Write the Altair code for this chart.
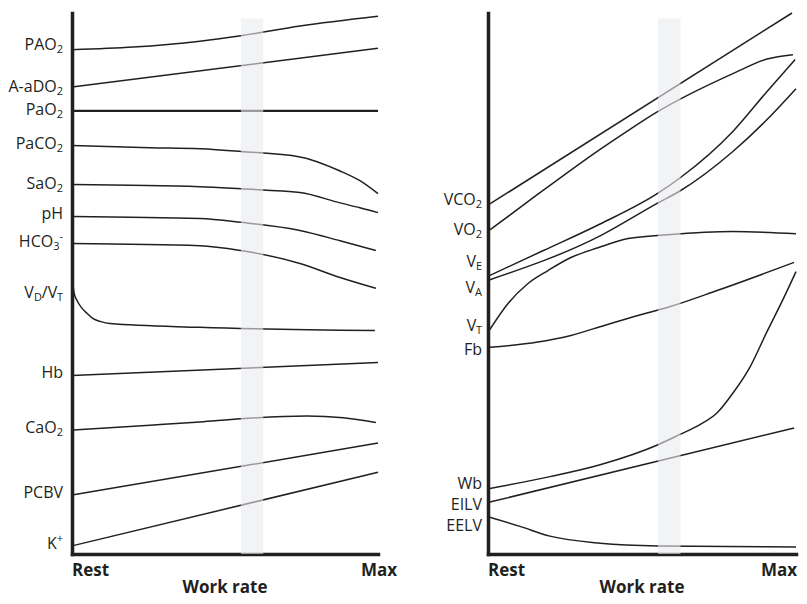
import altair as alt
import pandas as pd

# ---------------- data (x: work rate, 0 = Rest .. 100 = Max; y: relative level 0..100)
# Left panel
pao2_x = [0, 20, 41.8, 55.2, 74.5, 100]
pao2_y = [93.2, 93.7, 94.8, 95.8, 97.6, 99.4]
aado2_x = [0, 100]
aado2_y = [86.3, 93.5]
pao2art_x = [0, 100]
pao2art_y = [81.9, 81.9]
paco2_x = [0, 25.5, 41.8, 55.2, 74.5, 87.6, 94.1, 100]
paco2_y = [75.5, 75.1, 74.9, 74.4, 73.4, 70.8, 69.0, 66.6]
sao2_x = [0, 41.8, 55.2, 74.5, 87.6, 94.1, 100]
sao2_y = [68.3, 67.9, 67.5, 66.8, 64.9, 64.0, 63.1]
ph_x = [0, 41.8, 55.2, 74.5, 87.6, 99.3]
ph_y = [62.4, 62.0, 61.3, 59.8, 57.9, 56.1]
hco3_x = [0, 41.8, 55.2, 74.5, 87.6, 99.3]
hco3_y = [57.4, 57.0, 56.1, 53.7, 51.1, 49.1]
vdvt_x = [0.3, 0.65, 1.6, 3.3, 4.9, 6.9, 9.2, 12.4, 41.8, 99]
vdvt_y = [50.0, 48.3, 46.9, 45.4, 44.5, 43.5, 43.0, 42.6, 41.9, 41.3]
hb_x = [0, 100]
hb_y = [33.0, 35.4]
cao2_x = [0, 25.5, 41.8, 55.2, 76.8, 88.6, 99.3]
cao2_y = [22.9, 23.8, 24.4, 25.0, 25.5, 25.2, 24.3]
pcbv_x = [0, 100]
pcbv_y = [10.9, 20.5]
k_x = [0, 100]
k_y = [1.5, 15.1]

# Right panel
vco2_x = [0.6, 98.7]
vco2_y = [64.7, 100.0]
vo2_x = [0.6, 13.6, 36.4, 46.1, 55.2, 79.5, 90.6, 99.0]
vo2_y = [59.9, 65.4, 74.8, 78.5, 81.8, 88.8, 91.5, 92.3]
ve_x = [0.6, 18.0, 36.4, 55.2, 62.3, 79.5, 90.6, 99.7]
ve_y = [51.5, 56.1, 61.0, 66.7, 69.5, 78.1, 85.5, 91.4]
va_x = [0.6, 36.4, 55.2, 62.3, 79.5, 90.6, 100]
va_y = [50.7, 58.8, 64.9, 67.1, 74.4, 80.3, 86.0]
vt_x = [0.6, 6.5, 13.0, 19.5, 26.9, 35.7, 45.5, 58.4, 79.5, 100]
vt_y = [41.5, 46.3, 50.0, 52.4, 54.8, 56.6, 58.3, 59.0, 59.6, 59.2]
fb_x = [0.6, 16.2, 26.9, 38.0, 48.7, 58.4, 74.4, 99.4]
fb_y = [38.2, 39.2, 40.4, 42.3, 44.1, 45.6, 48.7, 53.9]
wb_x = [0.6, 20.1, 36.4, 55.2, 62.3, 68.8, 74.4, 79.6, 85.1, 90.5, 95.9, 100]
wb_y = [12.1, 14.3, 16.5, 20.2, 22.1, 23.9, 26.1, 29.8, 34.6, 41.0, 47.2, 52.2]
eilv_x = [0.6, 99.4]
eilv_y = [9.6, 23.3]
eelv_x = [0.6, 10.4, 20.1, 36.4, 55.2, 100]
eelv_y = [6.8, 5.1, 3.3, 2.0, 1.5, 1.3]

# labels ("_x" = subscript, "^x" = superscript) and their levels
left_labels = ["PAO_2", "A-aDO_2", "PaO_2", "PaCO_2", "SaO_2", "pH", "HCO_3^-",
               "V_D/V_T", "Hb", "CaO_2", "PCBV", "K^+"]
left_label_level = [94.1, 86.3, 82.1, 75.8, 68.3, 62.9, 57.6, 48.2, 33.5, 23.3, 11.3, 1.9]
right_labels = ["VCO_2", "VO_2", "V_E", "V_A", "V_T", "Fb", "Wb", "EILV", "EELV"]
right_label_level = [65.4, 59.9, 54.0, 49.2, 42.1, 37.7, 12.9, 9.0, 5.2]

# x-axis texts
x_start_label, x_end_label, x_title = "Rest", "Max", "Work rate"

# shaded band (work-rate range) and its top level
band_x = [55.2, 62.5]
band_top = 99.0

# ---------------- styling / layout
FONT = "Open Sans"
INK = "#231f20"
W_L, W_R, H = 306, 308, 541
SIZE = {"main": 16, "sub": 11, "sup": 11}
DY = {"main": 0, "sub": 5, "sup": -5}

CW = {"A": .633, "B": .648, "C": .631, "D": .729, "E": .546, "F": .516, "H": .742,
      "I": .291, "K": .613, "L": .519, "O": .781, "P": .602, "S": .544, "T": .527,
      "V": .59, "W": .92, "a": .556, "b": .613, "h": .614, "p": .613, "-": .322,
      "/": .367, "+": .572, "2": .572, "3": .572}


def text_width(s, size):
    return sum(CW.get(c, 0.6) for c in s) * size


def parse(label):
    segs, i = [], 0
    while i < len(label):
        c = label[i]
        if c in "_^" and i + 1 < len(label):
            segs.append((label[i + 1], "sub" if c == "_" else "sup"))
            i += 2
        else:
            if segs and segs[-1][1] == "main":
                segs[-1] = (segs[-1][0] + c, "main")
            else:
                segs.append((c, "main"))
            i += 1
    return segs


def label_pieces(labels, levels, anchor):
    rows = []
    for lab, lev in zip(labels, levels):
        x = anchor
        for text, kind in reversed(parse(lab)):
            rows.append({"text": text, "kind": kind, "px": x, "level": lev})
            x -= text_width(text, SIZE[kind])
    return pd.DataFrame(rows)


def series_df(series):
    rows = []
    for name, xs, ys, w in series:
        for xv, yv in zip(xs, ys):
            rows.append({"series": name, "x": xv, "y": yv, "w": w})
    return pd.DataFrame(rows)


def panel(series, labels, levels, width, anchor, max_px):
    xs = alt.Scale(domain=[0, 100], nice=False, zero=False)
    ys = alt.Scale(domain=[0, 100], nice=False, zero=False)
    xaxis = alt.Axis(title=None, labels=False, ticks=False, grid=False,
                     domainWidth=3.5, domainColor=INK, domainCap="square")
    yaxis = alt.Axis(title=None, labels=False, ticks=False, grid=False,
                     domainWidth=3.5, domainColor=INK, domainCap="square")

    lines = alt.Chart(series_df(series)).mark_line(
        color=INK, interpolate="monotone"
    ).encode(
        x=alt.X("x:Q", scale=xs, axis=xaxis),
        y=alt.Y("y:Q", scale=ys, axis=yaxis),
        detail="series:N",
        strokeWidth=alt.StrokeWidth("w:Q", scale=None),
    )

    band = alt.Chart(pd.DataFrame({"x0": [band_x[0]], "x1": [band_x[1]],
                                   "top": [band_top], "bottom": [0]})).mark_rect(
        color="#e9ebee", opacity=0.6
    ).encode(
        x=alt.X("x0:Q", scale=xs, axis=xaxis), x2="x1:Q",
        y=alt.Y("top:Q", scale=ys, axis=yaxis), y2="bottom:Q",
    )

    pieces = label_pieces(labels, levels, anchor)
    layers = [lines, band]
    for kind in ["main", "sub", "sup"]:
        layers.append(
            alt.Chart(pieces).transform_filter(alt.datum.kind == kind).mark_text(
                align="right", baseline="middle", font=FONT, fontSize=SIZE[kind],
                dy=DY[kind], color=INK
            ).encode(
                x=alt.X("px:Q", scale=None),
                y=alt.Y("level:Q", scale=ys, axis=yaxis),
                text="text:N",
            )
        )
    one = pd.DataFrame({"a": [0]})
    bold = dict(baseline="alphabetic", font=FONT, fontSize=17,
                fontWeight="bold", color=INK)
    layers.append(alt.Chart(one).mark_text(align="left", **bold).encode(
        x=alt.value(0), y=alt.value(H + 22), text=alt.value(x_start_label)))
    layers.append(alt.Chart(one).mark_text(align="right", **bold).encode(
        x=alt.value(max_px), y=alt.value(H + 22), text=alt.value(x_end_label)))
    layers.append(alt.Chart(one).mark_text(align="center", **bold).encode(
        x=alt.value(width / 2), y=alt.value(H + 38.5), text=alt.value(x_title)))

    return alt.layer(*layers).properties(width=width, height=H)


left_series = [
    ("PAO2", pao2_x, pao2_y, 1.5), ("A-aDO2", aado2_x, aado2_y, 1.5),
    ("PaO2", pao2art_x, pao2art_y, 2.3), ("PaCO2", paco2_x, paco2_y, 1.5),
    ("SaO2", sao2_x, sao2_y, 1.5), ("pH", ph_x, ph_y, 1.5),
    ("HCO3", hco3_x, hco3_y, 1.5), ("VD/VT", vdvt_x, vdvt_y, 1.5),
    ("Hb", hb_x, hb_y, 1.5), ("CaO2", cao2_x, cao2_y, 1.5),
    ("PCBV", pcbv_x, pcbv_y, 1.5), ("K+", k_x, k_y, 1.5),
]
right_series = [
    ("VCO2", vco2_x, vco2_y, 1.5), ("VO2", vo2_x, vo2_y, 1.5),
    ("VE", ve_x, ve_y, 1.5), ("VA", va_x, va_y, 1.5), ("VT", vt_x, vt_y, 1.5),
    ("Fb", fb_x, fb_y, 1.5), ("Wb", wb_x, wb_y, 1.5),
    ("EILV", eilv_x, eilv_y, 1.5), ("EELV", eelv_x, eelv_y, 1.5),
]

left = panel(left_series, left_labels, left_label_level, W_L, -9, W_L + 19)
right = panel(right_series, right_labels, right_label_level, W_R, -6, W_R + 1)

chart = alt.hconcat(left, right, spacing=110, bounds="flush").properties(
    padding={"left": 0, "top": 2, "right": 0, "bottom": 1}
).configure_view(stroke=None)

chart.save("out.html", embed_options={"renderer": "svg", "actions": False})
